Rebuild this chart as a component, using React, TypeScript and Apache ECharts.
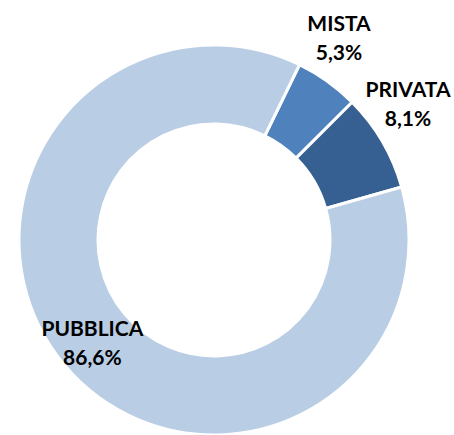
import React, { useEffect, useRef } from "react";
import * as echarts from "echarts";

const categories = ["MISTA", "PRIVATA", "PUBBLICA"];
const values = [5.3, 8.1, 86.6];
const labelsText = ["5,3%", "8,1%", "86,6%"];
const colors = ["#4F81BD", "#376092", "#B9CDE5"];

export default function App() {
  const ref = useRef<HTMLDivElement>(null);
  useEffect(() => {
    document.body.style.margin = "0";
    const chart = echarts.init(ref.current!, null, { renderer: "svg" });
    const outsidePos: Record<string, [number, number]> = {
      MISTA: [339, 37],
      PRIVATA: [408, 103],
    };
    chart.setOption({
      animation: false,
      series: [
        {
          type: "pie",
          center: [214, 240],
          radius: [116, 195],
          startAngle: 64,
          clockwise: true,
          avoidLabelOverlap: false,
          itemStyle: { borderColor: "#ffffff", borderWidth: 3 },
          label: {
            show: true,
            position: "inside",
            formatter: (p: any) => p.name + "\n" + labelsText[p.dataIndex],
            fontFamily: "Lato",
            fontWeight: "bold",
            fontSize: 21,
            lineHeight: 29,
            color: "#000000",
            align: "center",
          },
          labelLine: { show: false },
          labelLayout: (params: any) => {
            const name = categories[params.dataIndex];
            const pos = outsidePos[name];
            if (pos) {
              return { x: pos[0], y: pos[1], align: "center", verticalAlign: "middle" };
            }
            return {};
          },
          emphasis: { disabled: true },
          data: categories.map((c, i) => ({
            name: c,
            value: values[i],
            itemStyle: { color: colors[i] },
          })),
        },
      ],
    });
    return () => chart.dispose();
  }, []);
  return <div ref={ref} style={{ width: 454, height: 435 }} />;
}
